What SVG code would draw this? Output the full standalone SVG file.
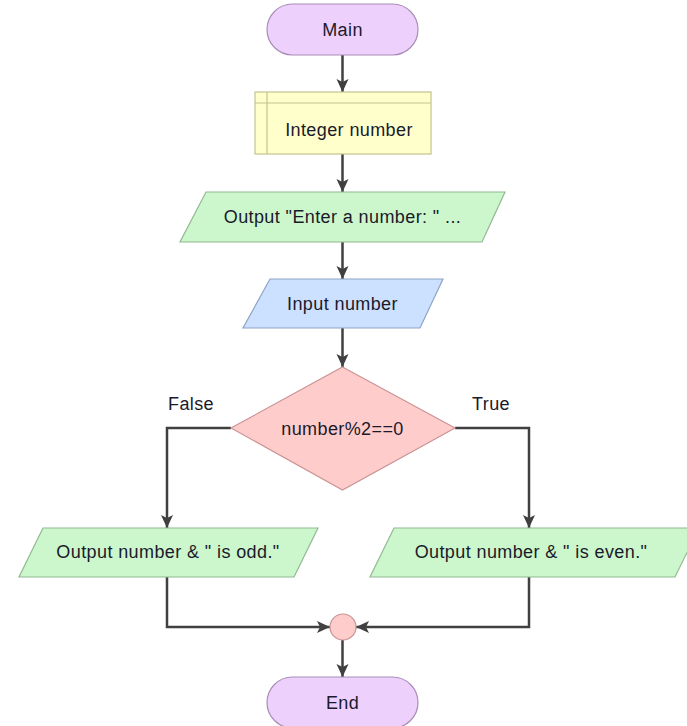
<svg xmlns="http://www.w3.org/2000/svg" width="687" height="726" viewBox="0 0 687 726">
  <defs>
    <marker id="arrow" markerUnits="userSpaceOnUse" markerWidth="14" markerHeight="14" viewBox="0 0 14 14" refX="13" refY="7" orient="auto">
      <path d="M0,1 L13,7 L0,13 L3,7 Z" fill="#404040"/>
    </marker>
    <style>
      .lbl { font-family: "Liberation Sans", Arial, sans-serif; font-size: 18px; letter-spacing: 0.4px; fill: #1a1a2a; text-anchor: middle; dominant-baseline: central; }
      .edge { fill: none; stroke: #404040; stroke-width: 2.5; marker-end: url(#arrow); }
      .term { fill: #eed0fd; stroke: #a98db6; stroke-width: 1.2; }
      .decl { fill: #ffffcc; stroke: #c4c48e; stroke-width: 1.2; }
      .out { fill: #ccf7cc; stroke: #92b892; stroke-width: 1.2; }
      .in { fill: #cce0ff; stroke: #8ea4c6; stroke-width: 1.2; }
      .dec { fill: #ffcccc; stroke: #cc9494; stroke-width: 1.2; }
    </style>
  </defs>
  <rect width="687" height="726" fill="#ffffff"/>

  <g id="connectors">
    <path class="edge" d="M342.5,55 L342.5,92"/>
    <path class="edge" d="M342.5,154 L342.5,192"/>
    <path class="edge" d="M342.5,242 L342.5,279"/>
    <path class="edge" d="M342.5,328 L342.5,367"/>
    <path class="edge" d="M231,428 L167,428 L167,528"/>
    <path class="edge" d="M455,428 L529,428 L529,528"/>
    <path class="edge" d="M167,577 L167,627 L330,627"/>
    <path class="edge" d="M529,577 L529,627 L356,627"/>
    <path class="edge" d="M342.5,640 L342.5,677"/>
  </g>

  <g id="main">
    <rect class="term" x="267" y="4" width="151" height="51" rx="25.5"/>
    <text class="lbl" x="342.5" y="30">Main</text>
  </g>

  <g id="declare">
    <rect class="decl" x="255" y="92" width="176" height="62"/>
    <path d="M267,92 V154 M255,103 H431" fill="none" stroke="#c4c48e" stroke-width="1.2"/>
    <text class="lbl" x="349" y="130">Integer number</text>
  </g>

  <g id="prompt">
    <polygon class="out" points="206,192 505,192 482,242 180,242"/>
    <text class="lbl" x="342.5" y="217">Output "Enter a number: " ...</text>
  </g>

  <g id="input">
    <polygon class="in" points="270,279 443,279 420,328 243,328"/>
    <text class="lbl" x="342.5" y="304">Input number</text>
  </g>

  <g id="decision">
    <polygon class="dec" points="342.5,367 455,428 342.5,490 231,428"/>
    <text class="lbl" x="342.5" y="429">number%2==0</text>
    <text class="lbl" x="191" y="404">False</text>
    <text class="lbl" x="491" y="404">True</text>
  </g>

  <g id="odd">
    <polygon class="out" points="43,528 318,528 294,577 19,577"/>
    <text class="lbl" x="168" y="552">Output number &amp; " is odd."</text>
  </g>

  <g id="even">
    <polygon class="out" points="394,528 699,528 675,577 370,577"/>
    <text class="lbl" x="531" y="552">Output number &amp; " is even."</text>
  </g>

  <g id="join">
    <circle cx="343" cy="627" r="13" fill="#ffcccc" stroke="#c99494" stroke-width="1.2"/>
  </g>

  <g id="end">
    <rect class="term" x="267" y="677" width="151" height="51" rx="25.5"/>
    <text class="lbl" x="342.5" y="703">End</text>
  </g>
</svg>
